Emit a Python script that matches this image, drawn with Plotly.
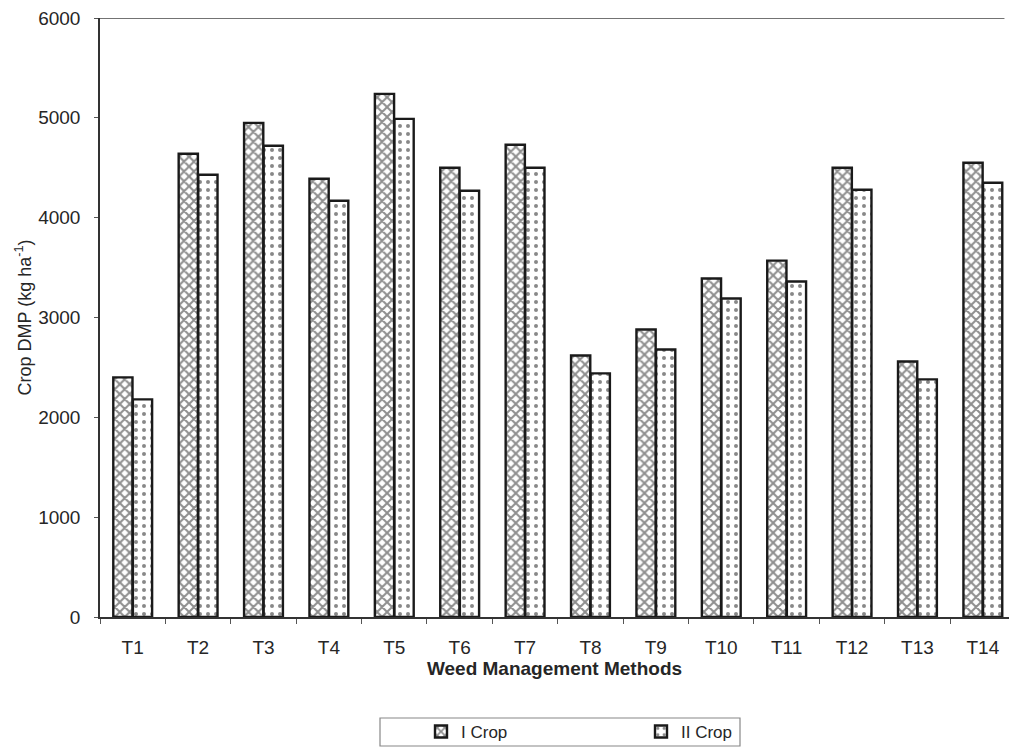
import plotly.graph_objects as go

categories = ["T1","T2","T3","T4","T5","T6","T7","T8","T9","T10","T11","T12","T13","T14"]
crop1 = [2400, 4640, 4950, 4390, 5240, 4500, 4730, 2620, 2880, 3390, 3570, 4500, 2560, 4550]
crop2 = [2180, 4430, 4720, 4170, 4990, 4270, 4500, 2440, 2680, 3190, 3360, 4280, 2380, 4350]
y_ticks = [0, 1000, 2000, 3000, 4000, 5000, 6000]

font_family = "Liberation Sans, Arial, sans-serif"
txt = "#262626"

fig = go.Figure()
fig.add_trace(go.Bar(
    x=categories, y=crop1, name="I Crop",
    marker=dict(color="white", line=dict(color="#1a1a1a", width=2.4),
                pattern=dict(shape="x", fgcolor="#1e1e1e", bgcolor="white", size=7, solidity=0.5)),
))
fig.add_trace(go.Bar(
    x=categories, y=crop2, name="II Crop",
    marker=dict(color="white", line=dict(color="#1a1a1a", width=2.4),
                pattern=dict(shape=".", fgcolor="#111", bgcolor="white", size=8, solidity=0.2)),
))

fig.update_layout(
    width=1009, height=751,
    margin=dict(l=100, r=0, t=18, b=134),
    paper_bgcolor="white", plot_bgcolor="white",
    barmode="group", bargap=0.4, bargroupgap=0.02,
    font=dict(family=font_family, size=18, color=txt),
    showlegend=True,
    legend=dict(orientation="h", x=(421 - 100) / 909, xanchor="left",
                y=-(115 / 599), yanchor="middle",
                borderwidth=0, bgcolor="rgba(0,0,0,0)", font=dict(size=17, color=txt),
                itemwidth=30, entrywidth=175, traceorder="normal"),
    xaxis=dict(
        type="category", range=[-0.5, 13.4],
        showline=True, linecolor="#333", linewidth=1.5,
        ticks="outside", tickson="boundaries", ticklen=5, tickcolor="#555",
        ticklabelstandoff=12,
        showgrid=False, tickfont=dict(size=19, color=txt),
        title=dict(text="<b>Weed Management Methods</b>", font=dict(size=19, color=txt), standoff=3),
    ),
    yaxis=dict(
        range=[0, 6000], tickvals=y_ticks,
        showline=True, linecolor="#333", linewidth=1.5,
        ticks="outside", ticklen=4, tickcolor="#555",
        ticklabelstandoff=10,
        showgrid=False, tickfont=dict(size=19, color=txt), zeroline=False,
        title=dict(text="Crop DMP (kg ha<sup>-1</sup>)", font=dict(size=18, color=txt), standoff=2),
    ),
)

# top border line
fig.add_shape(type="line", xref="paper", yref="y", x0=0, x1=0.995, y0=6000, y1=6000,
              line=dict(color="#444", width=1.5))
# legend box
fig.add_shape(type="rect", xref="paper", yref="paper",
              x0=(380 - 100) / 909, x1=(740 - 100) / 909,
              y0=-(101 / 599), y1=-(129 / 599),
              line=dict(color="#888", width=1.2), fillcolor="rgba(0,0,0,0)")

fig.write_html("out.html")
